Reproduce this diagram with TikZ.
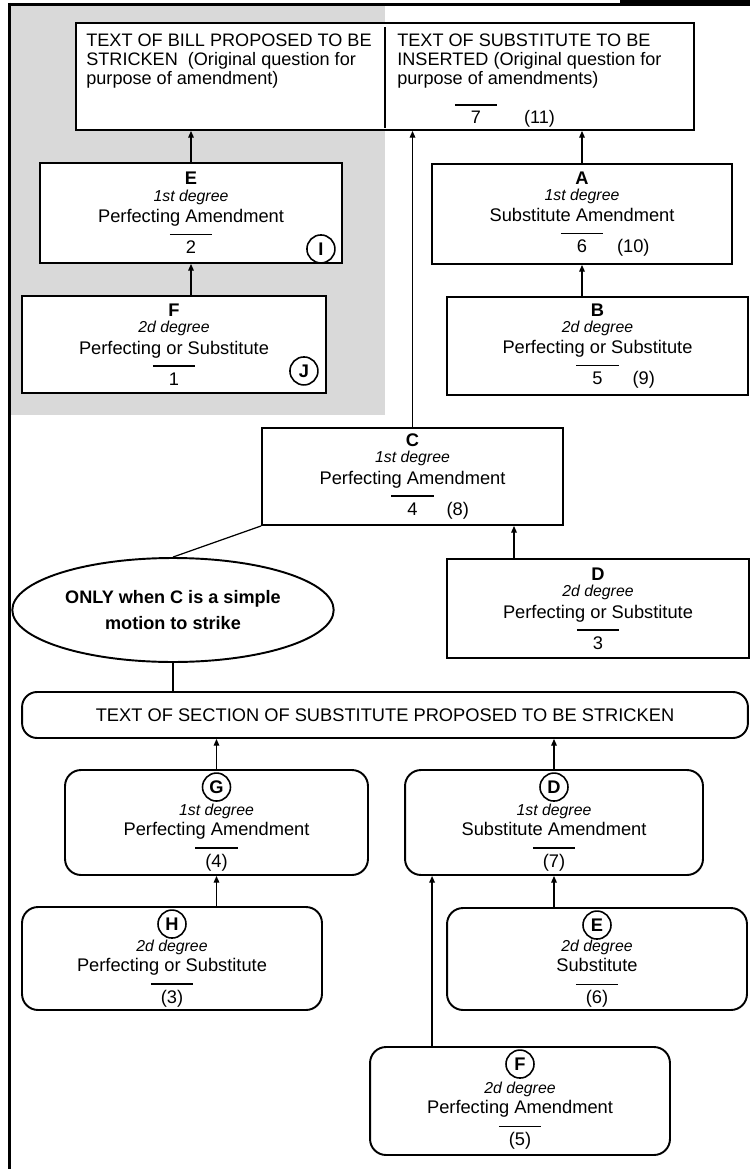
\documentclass[tikz,border=0pt]{standalone}
\usepackage{fontspec}
\setmainfont{Liberation Sans}
\usetikzlibrary{shapes.geometric,positioning,calc,arrows.meta}

\newcommand{\degfont}{\fontsize{9}{10}\selectfont\itshape}
\newcommand{\barno}[1]{\setbox0=\hbox{#1}\hbox to \wd0{\hss\smash{\raisebox{1.0em}{\rule{0.85cm}{0.9pt}}}\hss}\hskip-\wd0\box0}

\tikzset{
    amend/.style={draw, line width=1.1pt, fill=white, align=center, inner sep=0pt, font=\fontsize{10.4}{10}\selectfont},
    roundamend/.style={amend, rounded corners=0.32cm},
    arr/.style={-{Triangle[length=3.8pt,width=3.2pt]}, line width=0.7pt},
    link/.style={line width=0.7pt},
    letterc/.style={draw, circle, line width=0.9pt, inner sep=0pt, minimum size=0.56cm, font=\bfseries\fontsize{10.4}{10}\selectfont},
    billtext/.style={anchor=north west, align=left, inner sep=0pt, font=\fontsize{10.3}{10.8}\selectfont}
}

\begin{document}
\begin{tikzpicture}[x=0.02cm, y=-0.02cm]
    \useasboundingbox (0,0) rectangle (750,1169);

    % Shaded side (bill text)
    \fill [black!15] (11,6) rectangle (385,415);

    % Frame
    \draw [line width=2pt] (9.5,3) -- (9.5,1169);
    \draw [line width=1.6pt] (9.5,4.5) -- (620,4.5);
    \fill (620,0) rectangle (750,6);

    % Original question
    \node [draw, line width=1.1pt, fill=white, minimum width=12.36cm, minimum height=2.14cm, inner sep=0pt] (bill) at (385,76.5) {};
    \draw [link] ($(bill.north)+(0,5)$) -- ($(bill.south)+(0,-3)$);
    \node [billtext] (billtxt) at (86,34) {TEXT OF BILL PROPOSED TO BE\\STRICKEN\ \ (Original question for\\purpose of amendment)};
    \node [billtext] (subtxt) at (397,34) {TEXT OF SUBSTITUTE TO BE\\INSERTED (Original question for\\purpose of amendments)};
    \node [anchor=base, inner sep=0pt, font=\fontsize{10.3}{10.8}\selectfont] (billno) at (476,124) {\barno{7}\rlap{\hspace{0.86cm}(11)}};

    % Perfecting side
    \node [amend, minimum width=6.04cm, minimum height=2cm] (E) at (191,213) {\textbf{E}\\[-0.8pt]{\degfont 1st degree}\\[2.3pt]Perfecting Amendment\\[7.6pt]\barno{2}};
    \node [letterc] (Ic) at ($(E.south east)+(-22,-15)$) {I};
    \node [amend, minimum width=6.08cm, minimum height=1.94cm] (F) at (174,344.5) {\textbf{F}\\[-0.8pt]{\degfont 2d degree}\\[2.3pt]Perfecting or Substitute\\[7.6pt]\barno{1}};
    \node [letterc] (Jc) at ($(F.south east)+(-23,-23)$) {J};

    % Substitute side
    \node [amend, minimum width=6cm, minimum height=2cm] (A) at (582,214) {\textbf{A}\\[-0.8pt]{\degfont 1st degree}\\[2.3pt]Substitute Amendment\\[7.6pt]\barno{6}\rlap{\hspace{0.6cm}(10)}};
    \node [amend, minimum width=6.02cm, minimum height=1.96cm] (B) at (597.5,346) {\textbf{B}\\[-0.8pt]{\degfont 2d degree}\\[2.3pt]Perfecting or Substitute\\[7.6pt]\barno{5}\rlap{\hspace{0.6cm}(9)}};

    % Amendments to the substitute
    \node [amend, minimum width=6.02cm, minimum height=1.94cm] (C) at (412.5,476.5) {\textbf{C}\\[-0.8pt]{\degfont 1st degree}\\[2.3pt]Perfecting Amendment\\[7.6pt]\barno{4}\rlap{\hspace{0.58cm}(8)}};
    \node [amend, minimum width=6.04cm, minimum height=1.98cm] (D) at (598,608.5) {\textbf{D}\\[-0.8pt]{\degfont 2d degree}\\[2.3pt]Perfecting or Substitute\\[7.6pt]\barno{3}};
    \node [draw, ellipse, line width=1.1pt, minimum width=6.2cm, minimum height=2.08cm, align=center, font=\bfseries\fontsize{10.3}{12.3}\selectfont] (only) at (173,610) {ONLY when C is a simple\\[3pt]motion to strike};

    \foreach \n in {E,C,A}
        \draw [arr] (\n.north) -- (\n.north |- bill.south);
    \draw [arr] (E.south |- F.north) -- (E.south);
    \draw [arr] (A.south |- B.north) -- (A.south);
    \coordinate (dtail) at ($(D.north)+(-84,0)$);
    \draw [arr] (dtail) -- (dtail |- C.south);
    \draw [link] (C.south west) -- (only.north);

    % Section of substitute
    \node [roundamend, rounded corners=0.3cm, minimum width=14.52cm, minimum height=0.92cm] (sect) at (385,715) {TEXT OF SECTION OF SUBSTITUTE PROPOSED TO BE STRICKEN};
    \draw [link] (only.south) -- (only.south |- sect.north);

    \node [roundamend, minimum width=6.06cm, minimum height=2.1cm] (G) at (216.5,822.5) {\rule{0pt}{13.5pt}\\[0pt]{\degfont 1st degree}\\[1.3pt]Perfecting Amendment\\[8.1pt]\barno{(4)}};
    \node [roundamend, minimum width=6cm, minimum height=2.06cm] (H) at (172,958.5) {\rule{0pt}{13.5pt}\\[0pt]{\degfont 2d degree}\\[1.3pt]Perfecting or Substitute\\[8.1pt]\barno{(3)}};
    \node [roundamend, minimum width=5.96cm, minimum height=2.1cm] (D2) at (554,822.5) {\rule{0pt}{13.5pt}\\[0pt]{\degfont 1st degree}\\[1.3pt]Substitute Amendment\\[8.1pt]\barno{(7)}};
    \node [roundamend, minimum width=6cm, minimum height=2.04cm] (E2) at (597,959) {\rule{0pt}{13.5pt}\\[0pt]{\degfont 2d degree}\\[1.3pt]Substitute\\[8.1pt]\barno{(6)}};
    \node [roundamend, minimum width=6cm, minimum height=2.16cm] (F2) at (520,1101) {\rule{0pt}{13.5pt}\\[0pt]{\degfont 2d degree}\\[1.3pt]Perfecting Amendment\\[8.1pt]\barno{(5)}};

    \foreach \n/\l in {G/G,H/H,D2/D,E2/E,F2/F}
        \node [letterc] (\n c) at ($(\n.north)+(0,18)$) {\l};

    \foreach \n in {G,D2}
        \draw [arr] (\n.north) -- (\n.north |- sect.south);
    \draw [arr] (G.south |- H.north) -- (G.south);
    \draw [arr] (D2.south |- E2.north) -- (D2.south);
    \coordinate (ftail) at ($(F2.north west)+(63,0)$);
    \draw [arr] (ftail) -- (ftail |- D2.south);
\end{tikzpicture}
\end{document}
